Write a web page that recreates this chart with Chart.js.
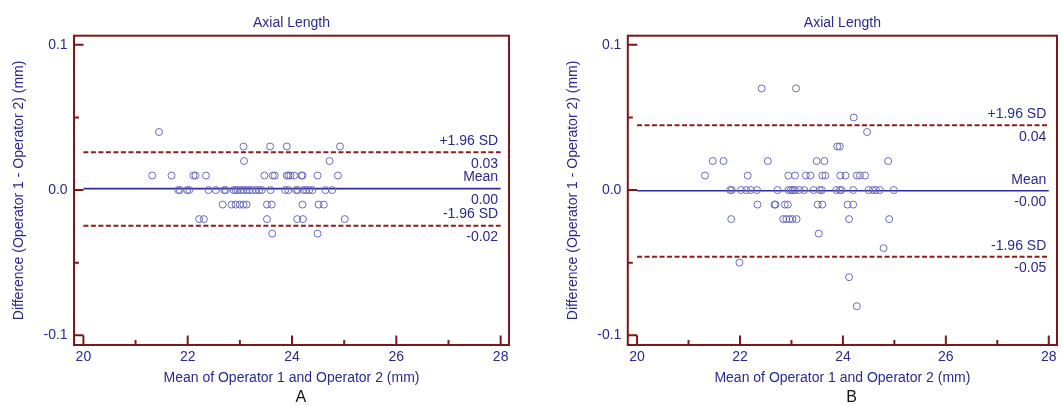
<!DOCTYPE html>
<html>
<head>
<meta charset="utf-8">
<script src="https://cdn.jsdelivr.net/npm/chart.js@4.4.1/dist/chart.umd.min.js"></script>
<style>
  html, body { margin: 0; padding: 0; background: #fff; }
  #wrap { position: relative; width: 1062px; height: 406px; }
  .panel { position: absolute; top: 0; width: 531px; height: 406px; }
</style>
</head>
<body>
<div id="wrap">
  <div class="panel" style="left:0"><canvas id="chartA" width="531" height="406"></canvas></div>
  <div class="panel" style="left:531px"><canvas id="chartB" width="531" height="406"></canvas></div>
</div>
<script>
const X_TICKS = [20, 22, 24, 26, 28];
const X_MINOR = [21, 23, 25, 27];
const Y_TICKS = [-0.1, 0, 0.1];
const Y_MINOR = [-0.05, 0.05];

// panel A: mean of the two operators vs. their difference, row by row
const meanA = [
  21.45,
  23.07, 23.58, 23.90, 24.92,
  23.08, 24.72,
  21.32, 21.69, 22.11, 22.15, 22.35, 23.47, 23.63, 23.67, 23.90, 23.93, 23.97, 24.04, 24.18, 24.20, 24.49, 24.88,
  21.82, 21.85, 21.99, 22.03, 22.40, 22.54, 22.70, 22.73, 22.88, 22.92, 22.96, 23.02, 23.07, 23.13, 23.18,
  23.24, 23.31, 23.37, 23.42, 23.59, 23.87, 23.93, 24.08, 24.11, 24.22, 24.27, 24.33, 24.39, 24.64, 24.77,
  22.67, 22.84, 22.92, 23.00, 23.07, 23.13, 23.52, 23.61, 24.20, 24.51, 24.61,
  22.22, 22.31, 23.52, 24.10, 24.21, 25.01,
  23.62, 24.49
];
const diffA = [
  0.04,
  0.03, 0.03, 0.03, 0.03,
  0.02, 0.02,
  0.01, 0.01, 0.01, 0.01, 0.01, 0.01, 0.01, 0.01, 0.01, 0.01, 0.01, 0.01, 0.01, 0.01, 0.01, 0.01,
  0, 0, 0, 0, 0, 0, 0, 0, 0, 0, 0, 0, 0, 0, 0,
  0, 0, 0, 0, 0, 0, 0, 0, 0, 0, 0, 0, 0, 0, 0,
  -0.01, -0.01, -0.01, -0.01, -0.01, -0.01, -0.01, -0.01, -0.01, -0.01, -0.01,
  -0.02, -0.02, -0.02, -0.02, -0.02, -0.02,
  -0.03, -0.03
];
const linesA = [0.026, 0.001, -0.0245];  // +1.96 SD, mean, -1.96 SD
const textA = ['+1.96 SD', '0.03', 'Mean', '0.00', '-1.96 SD', '-0.02'];

// panel B
const meanB = [
  22.42, 23.09,
  24.21,
  24.47,
  23.89, 23.94,
  21.47, 21.68, 22.54, 23.49, 23.64, 24.88,
  21.32, 22.15, 22.94, 23.07, 23.28, 23.37, 23.60, 23.66, 23.95, 24.05, 24.27, 24.33, 24.43,
  21.81, 21.84, 22.02, 22.12, 22.21, 22.33, 22.73, 22.94, 22.99, 23.03, 23.07, 23.15, 23.25,
  23.43, 23.55, 23.59, 23.87, 23.94, 23.97, 24.20, 24.50, 24.58, 24.64, 24.72, 24.99,
  22.34, 22.67, 22.69, 22.87, 22.93, 23.51, 23.60, 24.09, 24.20,
  21.83, 22.84, 22.90, 22.96, 23.02, 23.10, 24.12, 24.90,
  23.53,
  24.79,
  21.99,
  24.12,
  24.27
];
const diffB = [
  0.07, 0.07,
  0.05,
  0.04,
  0.03, 0.03,
  0.02, 0.02, 0.02, 0.02, 0.02, 0.02,
  0.01, 0.01, 0.01, 0.01, 0.01, 0.01, 0.01, 0.01, 0.01, 0.01, 0.01, 0.01, 0.01,
  0, 0, 0, 0, 0, 0, 0, 0, 0, 0, 0, 0, 0,
  0, 0, 0, 0, 0, 0, 0, 0, 0, 0, 0, 0,
  -0.01, -0.01, -0.01, -0.01, -0.01, -0.01, -0.01, -0.01, -0.01,
  -0.02, -0.02, -0.02, -0.02, -0.02, -0.02, -0.02, -0.02,
  -0.03,
  -0.04,
  -0.05,
  -0.06,
  -0.08
];
const linesB = [0.0447, -0.0005, -0.0459];
const textB = ['+1.96 SD', '0.04', 'Mean', '-0.00', '-1.96 SD', '-0.05'];

const TXT = '#2a2a8c';
const FRAME = '#7d1818';
const PT = '#6a6abd';
const MEAN = '#2d2d9e';
const LIMIT = '#8e1c1c';
const FONT = { family: "'Liberation Sans', Arial, sans-serif", size: 14, weight: 'normal' };

// box, inward ticks, line labels and panel letter
const framePlugin = {
  id: 'frame',
  afterDraw(chart, args, opts) {
    const { ctx, chartArea: a, scales: { x, y } } = chart;
    ctx.save();
    ctx.strokeStyle = FRAME;
    ctx.lineWidth = 2;
    ctx.strokeRect(a.left, a.top, a.right - a.left, a.bottom - a.top);
    ctx.beginPath();
    X_TICKS.forEach(v => { const p = x.getPixelForValue(v); ctx.moveTo(p, a.bottom); ctx.lineTo(p, a.bottom - 9.5); });
    X_MINOR.forEach(v => { const p = x.getPixelForValue(v); ctx.moveTo(p, a.bottom); ctx.lineTo(p, a.bottom - 5); });
    Y_TICKS.forEach(v => { const p = y.getPixelForValue(v); ctx.moveTo(a.left, p); ctx.lineTo(a.left + 9.5, p); });
    Y_MINOR.forEach(v => { const p = y.getPixelForValue(v); ctx.moveTo(a.left, p); ctx.lineTo(a.left + 5, p); });
    ctx.stroke();

    ctx.fillStyle = TXT;
    ctx.font = "14px 'Liberation Sans', Arial, sans-serif";
    ctx.textAlign = 'right';
    ctx.textBaseline = 'middle';
    const rx = x.getPixelForValue(28) - 2.5;
    opts.lines.forEach((v, i) => {
      const p = y.getPixelForValue(v);
      ctx.fillText(opts.text[i * 2], rx, p - 11);
      ctx.fillText(opts.text[i * 2 + 1], rx, p + 11.5);
    });

    ctx.textAlign = 'center';
    ctx.font = "16px 'Liberation Sans', Arial, sans-serif";
    ctx.fillStyle = '#111';
    ctx.fillText(opts.letter, x.getPixelForValue(24.17), 398);
    ctx.restore();
  }
};

function buildChart(id, mean, diff, lines, text, letter, yWidth, yTitlePad, padRight) {
  const points = mean.map((m, i) => ({ x: m, y: diff[i] }));
  const hLine = v => [{ x: 20, y: v }, { x: 28, y: v }];
  const limitStyle = { showLine: true, borderColor: LIMIT, borderWidth: 2, borderDash: [5, 2.5], pointRadius: 0 };

  new Chart(document.getElementById(id), {
    type: 'scatter',
    data: {
      datasets: [
        { data: points, pointRadius: 3.5, pointBorderWidth: 1, borderColor: PT, backgroundColor: 'rgba(0,0,0,0)' },
        { data: hLine(lines[1]), showLine: true, borderColor: MEAN, borderWidth: 1.6, pointRadius: 0 },
        Object.assign({ data: hLine(lines[0]) }, limitStyle),
        Object.assign({ data: hLine(lines[2]) }, limitStyle)
      ]
    },
    options: {
      responsive: false,
      animation: false,
      layout: { padding: { left: 0, right: padRight, top: 0, bottom: 0 } },
      plugins: {
        legend: { display: false },
        tooltip: { enabled: false },
        title: {
          display: true, text: 'Axial Length', color: TXT, font: FONT, fullSize: false,
          padding: { top: 14.9, bottom: 4 }
        },
        frame: { lines: lines, text: text, letter: letter }
      },
      scales: {
        x: {
          type: 'linear', min: 19.82, max: 28.16,
          afterBuildTicks: s => { s.ticks = X_TICKS.map(v => ({ value: v })); },
          afterFit: s => { s.height = 61; },
          grid: { display: false, drawTicks: false },
          border: { display: false },
          ticks: { color: TXT, font: FONT, padding: 3.5, maxRotation: 0, autoSkip: false },
          title: {
            display: true, text: 'Mean of Operator 1 and Operator 2 (mm)', color: TXT, font: FONT,
            padding: { top: 0, bottom: 19.6 }
          }
        },
        y: {
          type: 'linear', min: -0.1067, max: 0.1063,
          afterBuildTicks: s => { s.ticks = Y_TICKS.map(v => ({ value: v })); },
          afterFit: s => { s.width = yWidth; },
          grid: { display: false, drawTicks: false },
          border: { display: false },
          ticks: { color: TXT, font: FONT, padding: 6.4, callback: v => v.toFixed(1) },
          title: {
            display: true, text: 'Difference (Operator 1 - Operator 2) (mm)', color: TXT, font: FONT,
            padding: { top: yTitlePad, bottom: 0 }
          }
        }
      }
    },
    plugins: [framePlugin]
  });
}

buildChart('chartA', meanA, diffA, linesA, textA, 'A', 74, 10.9, 22);
buildChart('chartB', meanB, diffB, linesB, textB, 'B', 96.8, 34, 1.3);
</script>
</body>
</html>
